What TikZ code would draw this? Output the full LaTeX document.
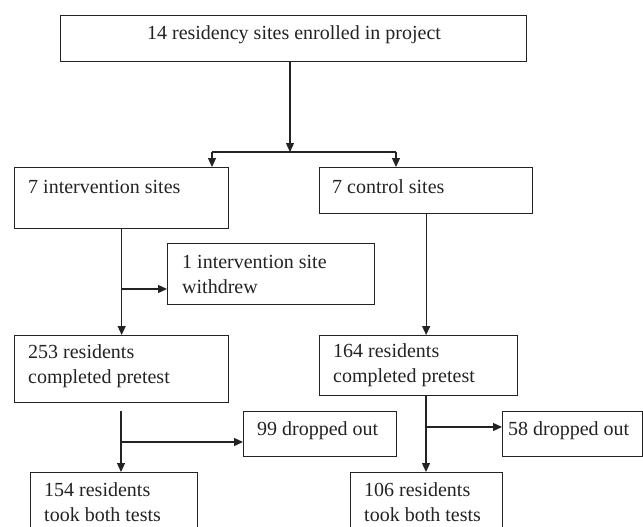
\documentclass[tikz,border=0pt]{standalone}
\usepackage{fontspec}
\setmainfont{Liberation Serif}
\usetikzlibrary{arrows.meta}
\definecolor{lc}{RGB}{35,35,35}
\tikzset{
  box/.style={draw=lc, line width=1.3pt, anchor=north west, inner sep=0pt, rectangle},
  txt/.style={anchor=base west, inner sep=0pt, align=left, text=lc, font=\fontsize{20}{24.5}\selectfont},
  arr/.style={draw=lc, line width=1.3pt, -{Triangle[length=9pt,width=8pt]}},
  ln/.style={draw=lc, line width=1.3pt},
}
\begin{document}
\begin{tikzpicture}[x=1pt,y=-1pt]
\useasboundingbox (0,0) rectangle (643,527);
% boxes
\node[box, minimum width=466pt, minimum height=46pt] (top) at (60,15) {};
\node[box, minimum width=214pt, minimum height=61pt] (int) at (14,167) {};
\node[box, minimum width=213pt, minimum height=46pt] (ctrl) at (319,167) {};
\node[box, minimum width=207pt, minimum height=61pt] (wd) at (167,243) {};
\node[box, minimum width=214pt, minimum height=67pt] (intpre) at (14,335) {};
\node[box, minimum width=198pt, minimum height=60pt] (ctrlpre) at (319,335) {};
\node[box, minimum width=153pt, minimum height=45pt] (drop99) at (243,411) {};
\node[box, minimum width=140pt, minimum height=45pt] (drop58) at (502,411) {};
\node[box, minimum width=167pt, minimum height=70pt] (intfin) at (30,472) {};
\node[box, minimum width=152pt, minimum height=70pt] (ctrlfin) at (350,472) {};
% texts (base anchor = last line's baseline)
\node[txt, anchor=base] (topT) at (294,40) {14 residency sites enrolled in project};
\node[txt] (intT) at (28,193) {7 intervention sites};
\node[txt] (ctrlT) at (332,193) {7 control sites};
\node[txt] (wdT) at (182,293) {1 intervention site\\withdrew};
\node[txt] (intpreT) at (28,383) {253 residents\\completed pretest};
\node[txt] (ctrlpreT) at (333,382) {164 residents\\completed pretest};
\node[txt] (drop99T) at (257,435) {99 dropped out};
\node[txt] (drop58T) at (508,435) {58 dropped out};
\node[txt] (intfinT) at (44,521) {154 residents\\took both tests};
\node[txt] (ctrlfinT) at (364,521) {106 residents\\took both tests};
% connectors
\coordinate (j) at (290,152);
\coordinate (ja) at (212,152);
\coordinate (jb) at (396,152);
\draw[arr] (top.south -| j) -- (j);
\draw[ln] (ja) -- (jb);
\draw[arr] (ja) -- (ja |- int.north);
\draw[arr] (jb) -- (jb |- ctrl.north);
\draw[arr] (int.south) -- (intpre.north);
\coordinate (b1) at (121,289);
\draw[arr] (b1) -- (b1 -| wd.west);
\draw[arr] (ctrl.south) -- (ctrl.south |- ctrlpre.north);
\coordinate (g1) at (121,411);
\draw[arr] (g1) -- (g1 |- intfin.north);
\coordinate (b2) at (121,442);
\draw[arr] (b2) -- (b2 -| drop99.west);
\coordinate (g2) at (426,395);
\draw[arr] (g2) -- (g2 |- ctrlfin.north);
\coordinate (b3) at (426,427);
\draw[arr] (b3) -- (b3 -| drop58.west);
\end{tikzpicture}
\end{document}
